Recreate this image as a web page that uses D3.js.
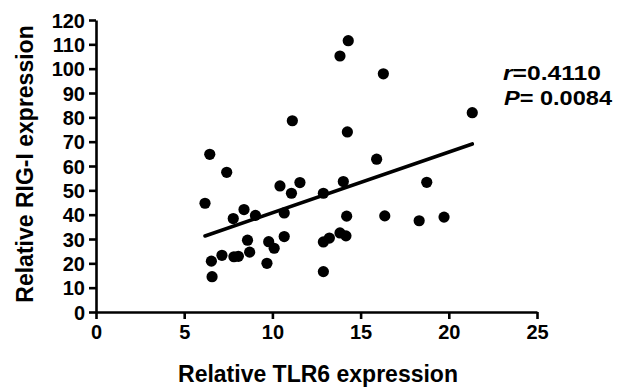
<!DOCTYPE html>
<html>
<head>
<meta charset="utf-8">
<script src="https://cdn.jsdelivr.net/npm/d3@7"></script>
<style>
  html, body { margin: 0; padding: 0; background: #fff; }
  svg { display: block; }
  text { font-family: "Liberation Sans", Arial, Helvetica, sans-serif; font-weight: bold; fill: #000; }
</style>
</head>
<body>
<svg id="chart" width="626" height="388"></svg>
<script>
// Relative TLR6 expression (x) and Relative RIG-I expression (y)
const tlr6 = [14.30, 13.83, 16.29, 21.33, 11.13, 14.25, 6.45, 15.91, 7.41, 6.18,
              10.43, 11.56, 11.08, 12.89, 14.02, 18.75, 8.39, 7.78, 9.04, 10.67,
              14.21, 16.37, 18.32, 19.73, 8.59, 9.79, 10.10, 10.67, 8.71, 7.14,
              7.82, 8.07, 6.54, 9.69, 6.58, 12.89, 13.23, 13.83, 14.17, 12.89];
const rigI = [111.5, 105.2, 97.9, 81.9, 78.6, 74.0, 64.8, 62.8, 57.4, 44.7,
              51.8, 53.2, 48.8, 48.8, 53.6, 53.3, 42.1, 38.4, 39.7, 40.7,
              39.4, 39.5, 37.5, 39.0, 29.5, 28.9, 26.2, 31.0, 24.6, 23.3,
              22.7, 22.9, 20.9, 20.0, 14.5, 28.8, 30.4, 32.5, 31.3, 16.6];
const xTicks = [0, 5, 10, 15, 20, 25];
const yTicks = [0, 10, 20, 30, 40, 50, 60, 70, 80, 90, 100, 110, 120];
const xTitle = "Relative TLR6 expression";
const yTitle = "Relative RIG-I expression";
const statR = "0.4110";
const statP = "0.0084";

const svg = d3.select("#chart");
const x = d3.scaleLinear().domain([0, 25]).range([96, 537]);
const y = d3.scaleLinear().domain([0, 120]).range([312, 20]);

// axes
const xAxis = svg.append("g").attr("transform", `translate(0,${y(0)})`)
  .call(d3.axisBottom(x).tickValues(xTicks).tickSize(7).tickPadding(6).tickSizeOuter(0));
const yAxis = svg.append("g").attr("transform", `translate(${x(0)},0)`)
  .call(d3.axisLeft(y).tickValues(yTicks).tickSize(7).tickPadding(4).tickSizeOuter(0));
[xAxis, yAxis].forEach(g => {
  g.select(".domain").attr("stroke", "#000").attr("stroke-width", 2.6);
  g.selectAll(".tick line").attr("stroke", "#000").attr("stroke-width", 2.6);
  g.selectAll(".tick text").attr("fill", "#000")
    .style("font-family", '"Liberation Sans", Arial, sans-serif')
    .style("font-weight", "bold").style("font-size", "20px");
});
xAxis.selectAll(".tick text").attr("dy", "0.71em");
yAxis.selectAll(".tick text").attr("dy", "0.36em");

// regression line (least squares)
const n = tlr6.length;
const mx = d3.mean(tlr6), my = d3.mean(rigI);
let sxy = 0, sxx = 0;
for (let i = 0; i < n; i++) { sxy += (tlr6[i]-mx)*(rigI[i]-my); sxx += (tlr6[i]-mx)**2; }
const slope = sxy / sxx, intercept = my - slope * mx;
const [x0, x1] = d3.extent(tlr6);
svg.append("line")
  .attr("x1", x(x0)).attr("y1", y(intercept + slope * x0))
  .attr("x2", x(x1)).attr("y2", y(intercept + slope * x1))
  .attr("stroke", "#000").attr("stroke-width", 3.6).attr("stroke-linecap", "round");

// points
svg.append("g").selectAll("circle").data(d3.range(n)).join("circle")
  .attr("cx", i => x(tlr6[i])).attr("cy", i => y(rigI[i]))
  .attr("r", 5.6).attr("fill", "#000");

// titles
svg.append("text").attr("x", 318).attr("y", 382).attr("text-anchor", "middle")
  .style("font-size", "23px").text(xTitle);
svg.append("text").attr("transform", "translate(33,164) rotate(-90)").attr("text-anchor", "middle")
  .style("font-size", "23px").text(yTitle);

// stats
const t1 = svg.append("text").attr("x", 503).attr("y", 80).style("font-size", "21px")
  .attr("textLength", 98).attr("lengthAdjust", "spacingAndGlyphs");
t1.append("tspan").style("font-style", "italic").text("r");
t1.append("tspan").text("=" + statR);
const t2 = svg.append("text").attr("x", 504).attr("y", 105).style("font-size", "21px")
  .attr("textLength", 108).attr("lengthAdjust", "spacingAndGlyphs");
t2.append("tspan").style("font-style", "italic").text("P");
t2.append("tspan").text("= " + statP);
</script>
</body>
</html>
